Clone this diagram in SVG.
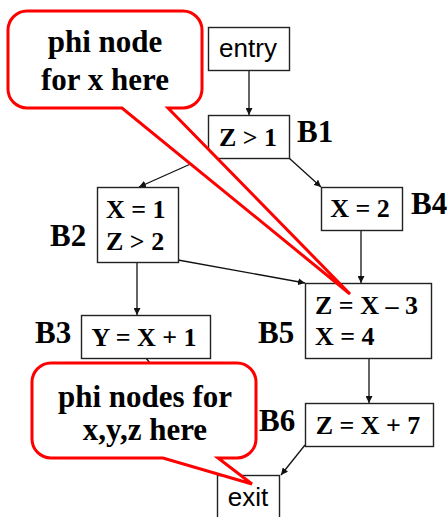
<svg xmlns="http://www.w3.org/2000/svg" width="447" height="517" viewBox="0 0 447 517">
<style>
.box{fill:#fff;stroke:#222;stroke-width:1.4}
.t{font-family:"Liberation Serif","Times New Roman",serif;font-weight:bold;font-size:26px;fill:#000}
.lbl{font-family:"Liberation Serif","Times New Roman",serif;font-weight:bold;font-size:31px;fill:#000}
.s{font-family:"Liberation Sans",Arial,sans-serif;font-size:26px;fill:#000}
.c{fill:none;stroke:#111;stroke-width:1.3}
.call{fill:#fff;stroke:#f00;stroke-width:3;stroke-linejoin:miter}
.ct{font-family:"Liberation Serif","Times New Roman",serif;font-weight:bold;font-size:31px;fill:#000;text-anchor:middle}
</style>
<defs>
<marker id="ah" viewBox="0 0 10 10" refX="10" refY="5" markerWidth="7" markerHeight="7" markerUnits="userSpaceOnUse" orient="auto">
<path d="M0,0 L10,5 L0,10 Z" fill="#111"/>
</marker>
</defs>
<g id="connectors">
<line class="c" x1="249" y1="70" x2="249" y2="115" marker-end="url(#ah)"/>
<line class="c" x1="204" y1="158" x2="139" y2="187" marker-end="url(#ah)"/>
<line class="c" x1="289" y1="158" x2="321" y2="187" marker-end="url(#ah)"/>
<line class="c" x1="137" y1="262" x2="137" y2="315" marker-end="url(#ah)"/>
<line class="c" x1="178" y1="260" x2="305" y2="283" marker-end="url(#ah)"/>
<line class="c" x1="361" y1="230" x2="361" y2="283" marker-end="url(#ah)"/>
<line class="c" x1="146" y1="358" x2="210" y2="440"/>
<line class="c" x1="369" y1="358" x2="369" y2="403" marker-end="url(#ah)"/>
<line class="c" x1="305" y1="445" x2="281" y2="475" marker-end="url(#ah)"/>
</g>
<g id="entry">
<rect class="box" x="208.5" y="27.5" width="81" height="43"/>
<text class="s" x="248" y="57" text-anchor="middle">entry</text>
</g>
<g id="B1">
<rect class="box" x="208.5" y="115.5" width="81" height="43"/>
<text class="t" x="248" y="146" text-anchor="middle">Z &gt; 1</text>
<text class="lbl" x="297" y="142">B1</text>
</g>
<g id="B2">
<rect class="box" x="97.5" y="187.5" width="81" height="75"/>
<text class="t" x="106" y="218">X = 1</text>
<text class="t" x="106" y="250">Z &gt; 2</text>
<text class="lbl" x="50" y="246">B2</text>
</g>
<g id="B4">
<rect class="box" x="321.5" y="187.5" width="81" height="43"/>
<text class="t" x="360" y="217" text-anchor="middle">X = 2</text>
<text class="lbl" x="411" y="214">B4</text>
</g>
<g id="B3">
<rect class="box" x="81.5" y="315.5" width="129" height="43"/>
<text class="t" x="144" y="346" text-anchor="middle">Y = X + 1</text>
<text class="lbl" x="35" y="343">B3</text>
</g>
<g id="B5">
<rect class="box" x="305.5" y="283.5" width="126" height="75"/>
<text class="t" x="315" y="314">Z = X – 3</text>
<text class="t" x="315" y="345">X = 4</text>
<text class="lbl" x="258" y="343">B5</text>
</g>
<g id="B6">
<rect class="box" x="305.5" y="403.5" width="128" height="43"/>
<text class="t" x="368" y="434" text-anchor="middle">Z = X + 7</text>
<text class="lbl" x="259" y="431">B6</text>
</g>
<g id="exit">
<rect class="box" x="217.5" y="475.5" width="62" height="50"/>
<text class="s" x="248" y="506" text-anchor="middle">exit</text>
</g>
<g id="callout1">
<path class="call" d="M27,11 H183 A19,19 0 0 1 202,30 V89 A19,19 0 0 1 183,108 H168 L350,294 L122,108 H27 A19,19 0 0 1 8,89 V30 A19,19 0 0 1 27,11 Z"/>
<text class="ct" x="105" y="52">phi node</text>
<text class="ct" x="105" y="90">for x here</text>
</g>
<g id="callout2">
<path class="call" d="M51,363 H237 A19,19 0 0 1 256,382 V439 A19,19 0 0 1 237,458 H218 L252,484 L163,458 H51 A19,19 0 0 1 32,439 V382 A19,19 0 0 1 51,363 Z"/>
<text class="ct" x="145" y="407">phi nodes for</text>
<text class="ct" x="145" y="440">x,y,z here</text>
</g>
</svg>
